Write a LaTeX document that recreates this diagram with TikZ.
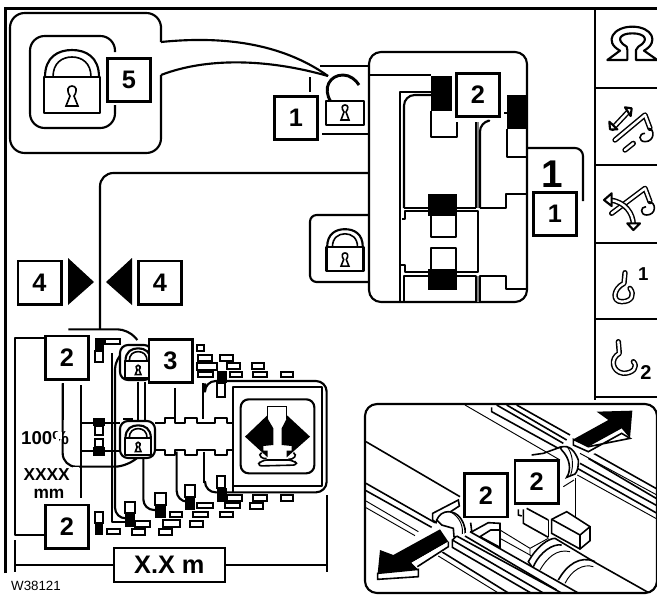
\documentclass[tikz,border=0pt]{standalone}
\usepackage{fontspec}
\setmainfont{Liberation Sans}
\tikzset{
  ln/.style={line width=1.6pt,black,line join=round},
  thn/.style={line width=0.7pt,black},
  med/.style={line width=1.2pt,black},
  numbox/.style={draw=black,line width=2pt,fill=white,minimum size=32.5pt,inner sep=0pt,font=\fontsize{19}{19}\selectfont\bfseries},
  lbl/.style={inner sep=0pt,font=\fontsize{14}{14}\selectfont\bfseries},
  wh/.style={fill=white,draw=black,line width=1.4pt},
  hookout/.style={line width=4pt,black,line cap=round,line join=round},
  hookin/.style={line width=1.8pt,white,line cap=round,line join=round},
}
\newcommand{\padlock}[3]{%
\begin{scope}[shift={(#1,#2)},scale=#3]
 \draw[ln,fill=white] (1,0) .. controls (1,-20) and (14,-27) .. (28,-27) .. controls (42,-27) and (55,-20) .. (55,0);
 \draw[med] (9,0) .. controls (9,-14) and (18,-20) .. (28,-20) .. controls (38,-20) and (47,-14) .. (47,0);
 \draw[ln,fill=white] (0,0) rectangle (56,36);
 \draw[med] (26,19) .. controls (22,13) and (24,9) .. (28,9) .. controls (32,9) and (34,13) .. (30,19) -- (34,29) -- (22,29) -- cycle;
\end{scope}}
\begin{document}
\begin{tikzpicture}[x=0.75pt,y=-0.75pt]
\useasboundingbox (0,0) rectangle (657,594);
% frame and sidebar
\draw[line width=2pt] (5.5,573) -- (5.5,8.5) -- (657,8.5);
\draw[med] (595,8) -- (595,400);
\foreach \yy in {88,165,243,319,397} \draw[med] (595,\yy) -- (657,\yy);
% callout 5
\draw[ln] (161,42) -- (161,26) [rounded corners=11pt] -- (161,13) -- (10,13) -- (10,153) -- (161,153) -- (161,75);
\draw[ln] (161,42) .. controls (220,36) and (280,42) .. (328,76);
\draw[ln] (161,75) .. controls (205,58) and (265,58) .. (328,76);
\draw[ln,rounded corners=11pt] (115,52) -- (115,36) -- (30,36) -- (30,128) -- (115,128) -- (115,105);
\padlock{44}{77}{1}
\node[numbox] (n5) at (129,80) {5};
% top right assembly
\draw[ln,rounded corners=9pt] (369,52) rectangle (527,302);
\draw[ln] (320,66) -- (369,66);
\draw[ln] (322,134) -- (369,134);
\draw[ln] (310,77) -- (310,92);
\draw[ln,rounded corners=10pt] (100,329) -- (100,173) -- (369,173);
\draw[ln,rounded corners=5pt] (369,215) -- (310,215) -- (310,282) -- (369,282);
% open lock
\draw[line width=2.2pt] (331,102) .. controls (322,88) and (330,75) .. (343,75) .. controls (350,75) and (356,80) .. (359,85);
\draw[ln,fill=white] (326,101) rectangle (364,125);
\draw[med] (344,112) .. controls (341,108) and (342,105) .. (345,105) .. controls (348,105) and (349,108) .. (346,112) -- (349,120) -- (341,120) -- cycle;
\padlock{326.5}{247}{0.66}
% inner structure
\draw[ln] (369,75) -- (431,75);
\draw[ln] (400,302) -- (400,92) -- (431,92);
\draw[ln,rounded corners=8pt] (404,208) -- (404,95) -- (431,95);
\draw[ln] (404,208) -- (430,208) (457,208) -- (476,208);
\draw[ln] (476,208) -- (476,122);
\draw[line width=1.3pt,gray] (478,208) -- (478,122);
\draw[ln,rounded corners=7pt] (480,208) -- (480,122) -- (487,121);
\draw[ln] (480,208) -- (506,208) -- (506,194) -- (527,194);
\draw[ln] (431,111) -- (431,137) -- (457,137) -- (457,122);
\fill[black] (431,76) rectangle (452,111);
\draw[ln] (402,219) -- (405,219) -- (405,211) -- (478,211) -- (478,272) -- (405,272) -- (405,265) -- (401,265);
\draw[ln] (431,216) -- (431,237) -- (456,237) -- (456,216);
\draw[ln] (431,269) -- (431,248) -- (456,248) -- (456,269);
\fill[black] (428,194) rectangle (457,216);
\fill[black] (428,269) rectangle (457,290);
\draw[ln] (404,302) -- (404,276) -- (430,276) (457,276) -- (476,276) -- (476,302);
\draw[line width=1.3pt,gray] (478,276) -- (478,302);
\draw[ln] (480,302) -- (480,276) -- (506,276) -- (506,289) -- (527,289);
\draw[ln] (507,129) -- (507,157) -- (527,157);
\fill[black] (507,95) rectangle (527,129);
\draw[ln] (504,113) -- (507,113);
\node[numbox] (n2a) at (478,95) {2};
\draw[ln,rounded corners=6pt] (527,148) -- (583,148) -- (583,201);
\node[inner sep=0pt,font=\fontsize{29}{29}\selectfont\bfseries] (one) at (552,174) {1};
\node[numbox] (n1b) at (555,214) {1};
\node[numbox] (n1a) at (296,118) {1};
% boxes 4
\node[numbox] (n4a) at (39.5,282.5) {4};
\node[numbox] (n4b) at (160,282.5) {4};
\fill (68,258) -- (94,282) -- (68,305) -- cycle;
\fill (132,258) -- (106,282) -- (132,305) -- cycle;
% lower left, zoom coordinates
\begin{scope}[shift={(0,320)},x=0.25pt,y=-0.25pt]
 \draw[ln] (300,0) -- (300,28);
 \draw[ln] (135,55) -- (45,55) -- (45,645) -- (135,645);
 \draw[ln] (242,195) -- (242,535);
 \draw[ln,rounded corners=8pt] (205,28) -- (385,28) -- (412,60);
 \draw[ln,rounded corners=10pt] (188,190) -- (188,440) -- (385,440) -- (410,415);
 \draw[ln,rounded corners=8pt] (365,100) -- (345,115) -- (345,595) -- (375,595);
 \draw[ln] (335,100) -- (335,605) -- (375,605);
 \draw[ln] (415,185) -- (415,300);
 \draw[ln] (435,185) -- (435,300);
 \draw[ln,rounded corners=8pt] (430,415) -- (430,570) -- (465,570);
 \draw[ln] (525,205) -- (525,298);
 \draw[ln,rounded corners=8pt] (530,395) -- (530,545) -- (555,545);
 \draw[ln] (610,190) -- (610,298);
 \draw[ln] (612,395) -- (612,490);
 \draw[ln,rounded corners=8pt] (615,190) -- (615,183) -- (980,183) -- (980,517) -- (615,517) -- (615,490);
 \draw[ln] (700,517) -- (700,200) -- (965,200) -- (965,497) -- (700,497);
 \draw[ln] (465,310) -- (495,310) -- (495,295) -- (525,295) -- (525,310) -- (555,310) -- (555,295) -- (590,295) -- (590,310) -- (645,310) -- (645,295) -- (680,295) -- (680,310) -- (700,310);
 \draw[ln] (465,390) -- (495,390) -- (495,405) -- (525,405) -- (525,390) -- (555,390) -- (555,405) -- (590,405) -- (590,390) -- (645,390) -- (645,405) -- (680,405) -- (680,390) -- (700,390);
 \draw[ln] (370,298) -- (400,298);
 \draw[ln,rounded corners=6pt] (722,238) rectangle (943,460);
 % machine icon
 \fill (735,350) -- (803,285) -- (803,296) -- (820,325) -- (820,375) -- (790,378) -- (790,392) -- (803,392) -- (803,412) -- cycle;
 \fill (930,350) -- (860,285) -- (860,296) -- (845,325) -- (845,375) -- (875,378) -- (875,392) -- (860,392) -- (860,412) -- cycle;
 \draw[med] (803,296) -- (803,260) -- (860,260) -- (860,296);
 \draw[med] (785,398) .. controls (770,405) and (790,420) .. (800,415) (880,398) .. controls (895,405) and (880,420) .. (865,418);
 \draw[med,rounded corners=4pt] (785,420) -- (880,420) -- (895,435) -- (770,438) -- cycle;
 % small rectangles
 \foreach \a/\b/\c/\d in {
 315/58/360/72,590/75/612/92,595/105/635/122,660/105/700/122,
 590/130/650/150,680/130/720/148,755/130/792/148,595/155/640/172,
 690/155/725/172,760/155/800/172,843/155/880/172,
 680/525/725/542,760/525/800/542,843/525/880/542,590/548/640/565,
 675/548/720/565,750/550/790/568,510/575/545/592,580/575/625/592,660/575/700/592,
 490/600/540/620,570/603/610/620,405/603/450/620,
 320/628/360/642,395/628/435/645,478/628/515/645}
  \draw[wh] (\a,\b) rectangle (\c,\d);
 % mid lines
 \draw[ln] (242,309) -- (360,309) (242,392) -- (360,392);
 % white blocks
 \foreach \a/\b/\c/\d in {
 285/92/308/125,650/190/675/232,650/468/675/505,555/495/585/530,
 465/520/497/555,375/545/405/580,285/575/310/610,
 285/318/310/345,285/358/310/382}
  \draw[wh] (\a,\b) rectangle (\c,\d);
 % black blocks
 \foreach \a/\b/\c/\d in {
 285/55/312/92,650/152/680/190,650/505/680/545,555/530/585/570,
 465/555/497/595,375/580/405/620,285/610/310/645,
 280/293/315/318,280/382/315/408}
  \fill (\a,\b) rectangle (\c,\d);
 % texts
 \node[lbl] (pct) at (135,355) {100\%};
 \fill[white] (168,336) rectangle (187,356);
 \fill[white] (162,356) rectangle (178,375);
 \node[inner sep=0pt,font=\fontsize{13}{13}\selectfont\bfseries] (xx) at (140,463) {XXXX};
 \fill[white] (218,440) rectangle (236,490);
 \node[inner sep=0pt,font=\fontsize{13}{13}\selectfont\bfseries] (mm) at (147,522) {mm};
 \draw[ln] (242,195) -- (242,535);
 \draw[ln] (188,190) -- (188,300);
 % dimension
 \draw[ln] (45,660) -- (45,755);
 \draw[ln] (980,525) -- (980,755);
 \node[draw=black,line width=1.5pt,fill=white,minimum width=83pt,minimum height=25pt,inner sep=0pt,font=\fontsize{19}{19}\selectfont\bfseries] (xxm) at (508,735) {X.X m};
 \draw[ln] (45,735) -- (xxm.west);
 \draw[ln] (xxm.east) -- (980,735);
 \node[numbox] (n2b) at (201,113) {2};
 \node[numbox] (n2c) at (201,620) {2};
\end{scope}
% small locks
\draw[ln,fill=white,rounded corners=6pt] (120,421) rectangle (155,458);
\padlock{125}{438}{0.47}
\draw[ln,fill=white,rounded corners=6pt] (120,345) rectangle (152,380);
\padlock{125}{361}{0.47}
\node[numbox] (n3) at (170.5,361) {3};
\node[inner sep=0pt,font=\fontsize{10}{10}\selectfont] (w) at (36,586) {W38121};
% inset
\fill[white,rounded corners=9pt] (365,404) rectangle (657,593);
\begin{scope}
\clip[rounded corners=9pt] (365,404) rectangle (657,593);
\begin{scope}[shift={(340,370)},x=0.25pt,y=-0.25pt]
 % upper rails
 \draw[thn] (375,105) -- (660,270);
 \draw[med] (530,105) -- (690,195);
 \draw[med] (500,105) -- (680,210);
 \draw[med] (470,105) -- (670,220);
 \draw[med] (455,112) -- (455,125) -- (655,235);
 \draw[med] (752,245) -- (960,362);
 \draw[med] (745,265) -- (960,392);
 \draw[thn] (720,250) -- (960,380);
 \draw[med] (720,280) -- (960,412);
 \draw[med] (712,295) -- (960,435);
 \draw[thn] (712,315) -- (960,452);
 % lower rails, left
 \draw[med] (78,215) -- (360,380);
 \draw[med] (78,340) -- (285,458);
 \draw[med] (78,362) -- (275,472);
 \draw[thn] (78,393) -- (235,485);
 \draw[thn] (78,413) -- (225,497);
 % clamp lower
 \draw[med,fill=white] (278,430) -- (355,390) -- (358,408) -- (290,452) -- (288,458) -- (278,450) -- cycle;
 \draw[med,fill=white] (290,450) .. controls (305,415) and (345,420) .. (362,445) .. controls (375,465) and (380,485) .. (372,503) -- (342,500) -- (340,475) -- (305,465) -- cycle;
 \draw[thn] (330,425) .. controls (360,440) and (372,470) .. (366,500);
 \draw[med] (392,458) -- (395,483);
 % block by lower clamp
 \draw[med,fill=white] (392,487) -- (445,458) -- (480,460) -- (480,532) -- (420,500) -- (452,480) -- (480,480);
 \draw[thn] (480,480) -- (570,535) (480,505) -- (570,555);
 \draw[thn] (570,535) -- (570,555) -- (575,560);
 \draw[thn] (570,535) -- (625,505);
 % clamp upper
 \draw[med] (575,255) -- (610,250) -- (665,230);
 \draw[med,fill=white] (660,232) .. controls (690,222) and (705,245) .. (715,270) .. controls (716,290) and (712,305) .. (705,312) -- (680,322) .. controls (695,300) and (690,265) .. (665,240) -- cycle;
 \draw[thn] (680,228) .. controls (698,250) and (702,285) .. (692,315);
 \draw[thn] (705,325) -- (705,445);
 \draw[thn] (670,350) -- (702,330);
 % valve block
 \draw[med] (550,418) -- (550,460) -- (625,502);
 \draw[med] (535,418) -- (535,435) -- (545,438);
 \draw[med] (560,415) -- (625,450);
 \draw[thn] (625,450) -- (625,502);
 \draw[med,fill=white] (635,448) -- (680,425) -- (750,470) -- (750,512) -- (720,537) -- (635,490) -- cycle;
 \draw[med] (635,448) -- (720,495) -- (750,470) (720,495) -- (720,537);
 % cylinder
 \draw[med,fill=white] (565,575) .. controls (590,530) and (625,505) .. (645,505) -- (770,580) -- (965,690) -- (660,690) -- (590,610) -- cycle;
 \draw[med] (580,590) .. controls (600,545) and (640,520) .. (665,525);
 \draw[thn] (600,600) .. controls (620,565) and (650,535) .. (690,545);
 \draw[med] (655,630) .. controls (680,585) and (720,555) .. (765,575);
 \draw[thn] (675,640) .. controls (695,600) and (730,580) .. (760,590);
 % lower rails, right (in front of the cylinder)
 \fill[white] (337,510) -- (350,498) -- (390,485) -- (720,672) -- (578,672) -- (337,532) -- cycle;
 \fill[white] (337,532) -- (578,672) -- (300,672) -- (300,545) -- cycle;
 \draw[med] (350,498) -- (337,510) -- (337,532) -- (578,672);
 \draw[med] (337,510) -- (615,672);
 \draw[med] (350,498) -- (670,672);
 \draw[med] (375,498) -- (650,660);
 \draw[med] (390,485) -- (720,672);
 \draw[med] (305,545) -- (510,672);
 \draw[thn] (295,558) -- (480,672);
 % arrows
 \fill[white] (690,205) -- (770,115) -- (885,110) -- (880,210) -- (750,255) -- cycle;
 \draw[med,fill=white] (700,208) -- (700,225) -- (745,245) -- (845,190) -- (870,205) -- (745,230) -- cycle;
 \fill (700,208) -- (805,150) -- (770,125) -- (877,122) -- (870,205) -- (845,175) -- (745,230) -- cycle;
 \fill (300,478) -- (160,555) -- (120,540) -- (113,610) -- (235,598) -- (215,578) -- (325,515) -- cycle;
 \fill[white] (325,515) -- (325,535) -- (235,590) -- (235,625) -- (105,635) -- (105,610) -- (235,598) -- (215,578) -- cycle;
 \draw[med,fill=white] (113,610) -- (113,628) -- (235,620) -- (235,598) -- cycle;
 \draw[med] (232,590) -- (325,530) -- (325,515);
\end{scope}
\end{scope}
\draw[ln,rounded corners=9pt] (365,404) rectangle (657,593);
\begin{scope}[shift={(340,370)},x=0.25pt,y=-0.25pt]
 \node[numbox] (n2d) at (438,376) {2};
 \node[numbox] (n2e) at (590,336) {2};
\end{scope}
% sidebar icons, zoom coordinates
\begin{scope}[shift={(570,0)},x=0.25pt,y=-0.25pt]
 % rotation
 \draw[ln,fill=white] (150,152) .. controls (100,125) and (130,80) .. (187,80) .. controls (245,80) and (270,125) .. (222,152) -- (262,180) -- (198,180) -- (198,150) -- (205,140) .. controls (240,120) and (225,100) .. (187,100) .. controls (150,100) and (135,120) .. (170,140) -- (172,150) -- (172,180) -- (112,180) -- cycle;
 % telescoping
 \draw[hookout] (128,385) -- (175,335);
 \draw[hookin] (128,385) -- (175,335);
 \draw[ln,fill=white] (165,322) -- (185,325) -- (182,348) -- cycle;
 \draw[ln,fill=white] (118,365) -- (120,388) -- (142,388) -- cycle;
 \draw[hookout] (135,420) -- (225,345) -- (240,385);
 \draw[hookin] (135,420) -- (225,345) -- (240,385);
 \draw[hookout] (165,450) -- (190,430);
 \draw[hookin] (165,450) -- (190,430);
 \draw[med] (235,385) .. controls (255,385) and (255,425) .. (225,425) .. controls (205,425) and (205,400) .. (225,400);
 % luffing
 \draw[hookout] (125,640) -- (225,565) -- (240,605);
 \draw[hookin] (125,640) -- (225,565) -- (240,605);
 \draw[med] (235,605) .. controls (260,605) and (260,645) .. (230,645) .. controls (210,645) and (210,620) .. (228,620);
 \draw[hookout] (120,600) .. controls (165,605) and (190,640) .. (190,675);
 \draw[hookin] (120,600) .. controls (165,605) and (190,640) .. (190,675);
 \draw[ln,fill=white] (102,600) -- (125,580) -- (125,618) -- cycle;
 \draw[ln,fill=white] (172,670) -- (210,670) -- (190,690) -- cycle;
 % hooks
 \draw[hookout] (165,818) -- (162,850) .. controls (130,865) and (125,905) .. (155,905) .. controls (185,905) and (195,885) .. (180,865);
 \draw[hookin] (165,818) -- (162,850) .. controls (130,865) and (125,905) .. (155,905) .. controls (185,905) and (195,885) .. (180,865);
 \node[lbl] (h1) at (220,822) {1};
 \draw[hookout] (145,1025) -- (148,1060) .. controls (120,1075) and (125,1115) .. (160,1120) .. controls (190,1120) and (205,1100) .. (190,1085);
 \draw[hookin] (145,1025) -- (148,1060) .. controls (120,1075) and (125,1115) .. (160,1120) .. controls (190,1120) and (205,1100) .. (190,1085);
 \node[inner sep=0pt,font=\fontsize{15}{15}\selectfont\bfseries] (h2) at (228,1118) {2};
\end{scope}
\end{tikzpicture}
\end{document}
